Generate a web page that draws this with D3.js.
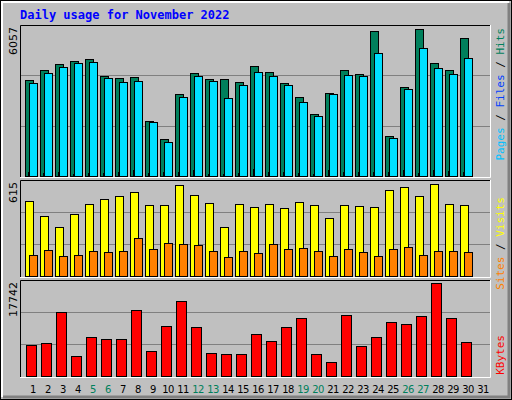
<!DOCTYPE html>
<meta charset="utf-8">
<html>
<head>
  <style>
    body { margin: 0; background: #fff; }
    svg { display: block; font-family: 'DejaVu Sans Mono', monospace; }
  </style>
  <script src="https://d3js.org/d3.v7.min.js"></script>
</head>
<body>
  <svg width="512" height="400"></svg>
  <script>
    var days = d3.range(1, 32);
    var weekends = [5, 6, 12, 13, 19, 20, 26, 27];
    var hits = [3850, 4250, 4490, 4610, 4690, 4010, 3930, 3970, 2205, 1485, 3290, 4130, 3890, 3890, 3770,
                4410, 4170, 3730, 3170, 2490, 3330, 4250, 4090, 5815, 1605, 3570, 5895, 4530, 4250, 5535];
    var files = [3730, 4130, 4370, 4530, 4570, 3930, 3770, 3810, 2165, 1365, 3170, 4010, 3810, 3130, 3650,
                 4170, 4010, 3650, 2970, 2405, 3290, 4050, 4010, 4930, 1525, 3490, 5130, 4330, 4090, 4730];
    var pages = [150, 130, 170, 100, 140, 120, 160, 230, 120, 150, 150, 230, 100, 100, 130,
                 280, 150, 150, 130, 100, 250, 150, 170, 150, 150, 250, 140, 230, 200, 150];
    var visits = [478, 382, 311, 395, 459, 491, 510, 535, 452, 452, 580, 516, 465, 311, 459,
                  439, 459, 433, 471, 452, 369, 452, 446, 439, 548, 567, 510, 587, 459, 452];
    var sites = [132, 164, 126, 132, 158, 151, 158, 241, 171, 209, 203, 196, 158, 119, 158,
                 145, 203, 171, 177, 158, 126, 171, 151, 126, 171, 183, 132, 158, 158, 151];
    var kbytes = [5790, 6100, 11900, 3675, 7225, 6850, 6850, 12270, 4610, 9280, 13770, 9095, 4235, 4050, 4050,
                  7790, 6480, 9095, 10780, 4050, 2555, 11340, 5545, 7225, 10030, 9655, 11150, 17130, 10780, 6290];
    var maxHits = 6057, maxVisits = 615, maxKB = 17742;

    var svg = d3.select("svg");

    // 3D-ish frame
    svg.append("rect").attr("x", 0.5).attr("y", 0.5).attr("width", 511).attr("height", 399)
      .attr("fill", "#c0c0c0").attr("stroke", "#000");
    svg.append("path").attr("d", "M2,397V2H509").attr("fill", "none").attr("stroke", "#fff").attr("stroke-width", 2);
    svg.append("path").attr("d", "M3,397H509V3").attr("fill", "none").attr("stroke", "#808080").attr("stroke-width", 3);

    svg.append("text").attr("x", 20).attr("y", 19)
      .attr("fill", "#0000ff").attr("font-weight", "bold").attr("font-size", 12)
      .text("Daily usage for November 2022");

    var x = d3.scaleBand().domain(days).range([25, 490]);

    var panels = [
      { top: 25, bottom: 177, max: maxHits, label: "6057" },
      { top: 180, bottom: 277, max: maxVisits, label: "615" },
      { top: 280, bottom: 377, max: maxKB, label: "17742" }
    ];

    panels.forEach(function(p) {
      p.y = d3.scaleLinear().domain([0, p.max]).range([p.bottom - 1, p.top]);
      svg.append("rect").attr("x", 20).attr("y", p.top).attr("width", 471).attr("height", p.bottom - p.top)
        .attr("fill", "#c0c0c0");
      [1 / 3, 2 / 3].forEach(function(f) {
        var yy = Math.round(p.y(p.max * f)) + 0.5;
        svg.append("line").attr("x1", 21).attr("x2", 490).attr("y1", yy).attr("y2", yy)
          .attr("stroke", "#808080");
      });
      svg.append("path").attr("d", "M20.5," + (p.bottom) + "V" + (p.top + 0.5) + "H491")
        .attr("fill", "none").attr("stroke", "#000");
      svg.append("path").attr("d", "M20," + (p.bottom + 0.5) + "H490.5V" + p.top)
        .attr("fill", "none").attr("stroke", "#fff");
      svg.append("text").attr("transform", "translate(17," + (p.top + 2) + ") rotate(-90)")
        .attr("text-anchor", "end").attr("font-size", 11).attr("font-family", "DejaVu Sans")
        .text(p.label);
    });

    function bars(data, panel, dx, w, color) {
      var y = panels[panel].y;
      svg.append("g").selectAll("rect").data(data).enter().append("rect")
        .attr("x", function(d, i) { return x(i + 1) + dx + 0.5; })
        .attr("y", function(d) { return Math.round(y(d)) + 0.5; })
        .attr("width", w)
        .attr("height", function(d) { return panels[panel].bottom - 1 - Math.round(y(d)); })
        .attr("fill", color).attr("stroke", "#000");
    }

    bars(hits, 0, 0, 8, "#00805c");
    bars(files, 0, 4, 8, "#00e0ff");
    bars(pages, 0, 3, 1, "#0040ff");
    bars(visits, 1, 0, 8, "#ffff00");
    bars(sites, 1, 4, 8, "#ff8000");
    bars(kbytes, 2, 1, 10, "#ff0000");

    // day labels
    svg.append("g").selectAll("text").data(days).enter().append("text")
      .attr("x", function(d) { return x(d) + 8; })
      .attr("y", 393)
      .attr("text-anchor", "middle").attr("font-size", 10).attr("font-family", "DejaVu Sans")
      .attr("letter-spacing", -0.5)
      .attr("fill", function(d) { return weekends.indexOf(d) >= 0 ? "#00805c" : "#000"; })
      .text(function(d) { return d; });

    // right side legends, reading bottom to top
    function legend(yPos, parts) {
      var t = svg.append("text").attr("transform", "translate(504," + yPos + ") rotate(-90)")
        .attr("text-anchor", "end").attr("font-size", 11).attr("font-family", "DejaVu Sans Mono");
      parts.forEach(function(p) { t.append("tspan").attr("fill", p[1]).text(p[0]); });
    }
    legend(28, [["Pages", "#00c0ff"], [" / ", "#000"], ["Files", "#0040ff"], [" / ", "#000"], ["Hits", "#00805c"]]);
    legend(197, [["Sites", "#ff8000"], [" / ", "#000"], ["Visits", "#ffff00"]]);
    legend(335, [["KBytes", "#ff0000"]]);
  </script>
</body>
</html>
